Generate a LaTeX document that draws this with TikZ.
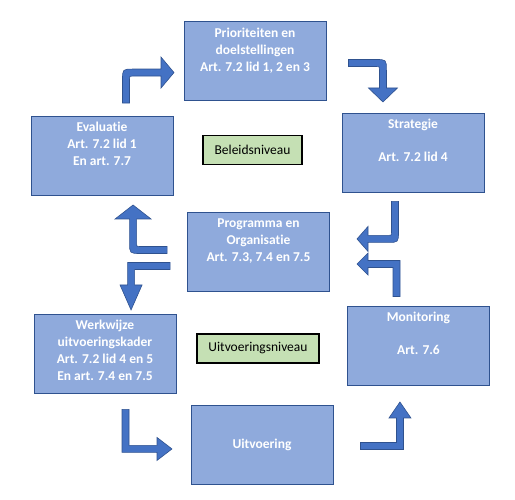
\documentclass[tikz,border=0pt]{standalone}
\usepackage{fontspec}
\setmainfont{Carlito}[Ligatures=NoCommon]
\usetikzlibrary{calc}
\definecolor{boxfill}{HTML}{8FAADC}
\definecolor{boxline}{HTML}{2F528F}
\definecolor{arrfill}{HTML}{4472C4}
\definecolor{lvlfill}{HTML}{C5E0B4}
\tikzset{
  stapbox/.style={draw=boxline,fill=boxfill,line width=0.9pt,inner sep=0pt,
    minimum width=142pt,minimum height=79pt,text=white,
    font=\fontsize{13.5}{17}\selectfont\bfseries},
  niveau/.style={draw=black,fill=lvlfill,line width=1.3pt,inner sep=0pt,
    minimum height=29pt,font=\fontsize{13.5}{17}\selectfont},
  blokpijl/.style={fill=arrfill,draw=boxline,line width=0.6pt,line join=miter},
  every picture/.style={line cap=round}}
\newcommand{\stap}[1]{\parbox[c][79pt][t]{142pt}{\centering\rule{0pt}{16pt}#1}}
% bent block arrow: #1 transform, #2 stem, #3 arm, #4 head length,
% #5 half head width, #6 outer radius, #7 inner radius
\newcommand{\bochtpijl}[7]{%
  \draw[blokpijl,#1] (-3.5,0) -- (-3.5,#2+3.5-#6)
    .. controls (-3.5,#2+3.5) .. (-3.5+#6,#2+3.5) -- (#3-#4,#2+3.5)
    -- (#3-#4,#2+#5) -- (#3,#2) -- (#3-#4,#2-#5) -- (#3-#4,#2-3.5)
    -- (3.5+#7,#2-3.5) .. controls (3.5,#2-3.5) .. (3.5,#2-3.5-#7)
    -- (3.5,0) -- cycle;}

\begin{document}
\begin{tikzpicture}[x=1pt,y=1pt]
  \useasboundingbox (0,0) rectangle (515,500);
  % beleidsniveau
  \node[stapbox] (prio) at (255,439) {\stap{Prioriteiten en\\doelstellingen\\Art. 7.2 lid 1, 2 en 3}};
  \node[stapbox] (eval) at (102,344.5) {\stap{Evaluatie\\Art. 7.2 lid 1\\En art. 7.7}};
  \node[stapbox] (strat) at (413,347.5) {\stap{Strategie\\[16pt]Art. 7.2 lid 4}};
  \node[stapbox] (prog) at (258.5,248.5) {\stap{Programma en\\Organisatie\\Art. 7.3, 7.4 en 7.5}};
  \node[niveau,minimum width=99pt] (beleid) at (252.5,350) {Beleidsniveau};
  % uitvoeringsniveau
  \node[stapbox] (werk) at (105,146.5) {\stap{Werkwijze\\uitvoeringskader\\Art. 7.2 lid 4 en 5\\En art. 7.4 en 7.5}};
  \node[stapbox] (mon) at (418.5,154.5) {\stap{Monitoring\\[16pt]Art. 7.6}};
  \node[stapbox] (uitv) at (262,55.5) {Uitvoering};
  \node[niveau,minimum width=122pt] (uitvniv) at (258,151.5) {Uitvoeringsniveau};
  % startpunten van de pijlen
  \coordinate (p1) at ($(eval.north)+(24,12.5)$);
  \coordinate (p2) at ($(prio.east)+(22,-2)$);
  \coordinate (p3) at ($(strat.south)+(-18,-9)$);
  \coordinate (p4) at ($(mon.north)+(-22,9)$);
  \coordinate (p5) at ($(prog.west)+(-20,1.5)$);
  \coordinate (p6) at ($(prog.west)+(-17,-14.5)$);
  \coordinate (p7) at ($(werk.south)+(20.5,-16)$);
  \coordinate (p8) at ($(uitv.east)+(27,-1.5)$);
  \bochtpijl{cm={1,0,0,1,(p1)}}{30.5}{48}{13}{15.5}{11}{3}
  \bochtpijl{cm={0,-1,1,0,(p2)}}{34.5}{39}{14}{14.5}{11}{3}
  \bochtpijl{cm={-1,0,0,-1,(p3)}}{37.5}{38}{11}{12.5}{11}{3}
  \bochtpijl{cm={-1,0,0,1,(p4)}}{32.5}{39.5}{11}{11}{0}{0}
  \bochtpijl{cm={0,1,-1,0,(p5)}}{34}{45}{14}{18}{11}{3}
  \bochtpijl{cm={0,-1,-1,0,(p6)}}{39}{44}{25}{11}{0}{0}
  \bochtpijl{cm={1,0,0,-1,(p7)}}{39.5}{46.5}{15}{11.5}{0}{0}
  \bochtpijl{cm={0,1,1,0,(p8)}}{39.5}{44}{16}{11}{0}{0}
\end{tikzpicture}
\end{document}
